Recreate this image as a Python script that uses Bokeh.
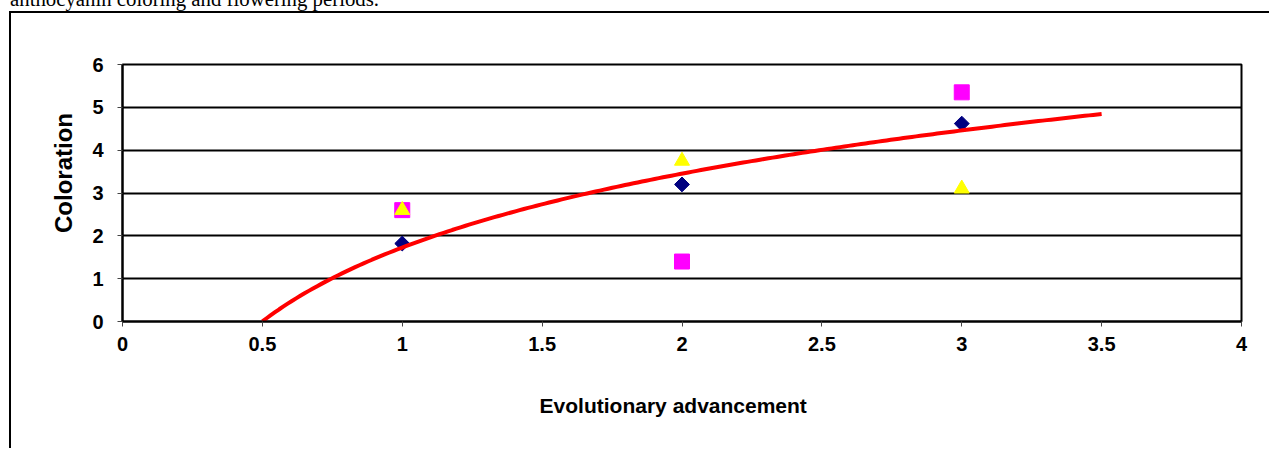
import numpy as np
from bokeh.plotting import figure
from bokeh.models import Div, FixedTicker, Range1d
from bokeh.layouts import column
from bokeh.embed import file_html
from bokeh.resources import INLINE

# ---- data ----
heading = "anthocyanin coloring and flowering periods."
x_title = "Evolutionary advancement"
y_title = "Coloration"

advancement = [1, 2, 3]
diamond_vals = [1.82, 3.2, 4.62]
square_vals = [2.6, 1.4, 5.35]
triangle_vals = [2.6, 3.75, 3.1]

x_ticks = [0, 0.5, 1, 1.5, 2, 2.5, 3, 3.5, 4]
y_ticks = [0, 1, 2, 3, 4, 5, 6]
x_tick_labels = {0: "0", 0.5: "0.5", 1: "1", 1.5: "1.5", 2: "2", 2.5: "2.5", 3: "3", 3.5: "3.5", 4: "4"}

# logarithmic trendline of the diamond series, drawn from 0.5 to 3.5
trend_start, trend_end = 0.5, 3.5
coef = np.polyfit(np.log(advancement), diamond_vals, 1)
trend_x = np.linspace(trend_start, trend_end, 200)
trend_y = coef[0] * np.log(trend_x) + coef[1]

FONT = "Liberation Sans"
NBSP = "\u00a0"

div = Div(
    text=heading,
    width=1200,
    height=24,
    styles={
        "font-family": "'Liberation Serif', 'Times New Roman', serif",
        "font-size": "20.8px",
        "line-height": "24px",
        "color": "black",
        "margin-top": "-13px",
        "margin-left": "10px",
        "white-space": "nowrap",
    },
)

p = figure(
    width=1260,
    height=437,
    output_backend="svg",
    toolbar_location=None,
    x_range=Range1d(0, 4),
    y_range=Range1d(0, 6),
    min_border_left=111,
    min_border_right=30,
    min_border_top=51,
    min_border_bottom=129,
    background_fill_color="white",
    border_fill_color="white",
    styles={
        "border-left": "2px solid black",
        "border-top": "2px solid black",
        "margin-left": "9px",
        "margin-top": "-5px",
    },
)

p.outline_line_color = "black"
p.outline_line_width = 2
p.xgrid.grid_line_color = None
p.ygrid.grid_line_color = "black"
p.ygrid.grid_line_width = 2

p.xaxis.ticker = FixedTicker(ticks=x_ticks)
p.yaxis.ticker = FixedTicker(ticks=y_ticks)
p.xaxis.major_label_overrides = {k: v for k, v in x_tick_labels.items()}

for ax in (p.xaxis, p.yaxis):
    ax.axis_line_color = "black"
    ax.axis_line_width = 2
    ax.major_tick_line_color = "#444444"
    ax.major_tick_line_width = 1
    ax.major_tick_in = 0
    ax.major_tick_out = 5
    ax.minor_tick_line_color = None
    ax.major_label_text_font = FONT
    ax.major_label_text_font_style = "bold"
    ax.major_label_text_font_size = "20px"
    ax.major_label_text_color = "black"
    ax.axis_label_text_font = FONT
    ax.axis_label_text_font_style = "bold"
    ax.axis_label_text_color = "black"

p.xaxis.major_label_standoff = 10
p.yaxis.major_label_standoff = 14
# non-breaking spaces nudge the titles off-centre, as in the reference
p.xaxis.axis_label = x_title + NBSP * 3
p.yaxis.axis_label = NBSP * 6 + y_title
p.xaxis.axis_label_text_font_size = "21px"
p.yaxis.axis_label_text_font_size = "24px"
p.xaxis.axis_label_standoff = 40
p.yaxis.axis_label_standoff = 12

p.scatter(advancement, diamond_vals, marker="square", angle=np.pi / 4, size=10.5,
          fill_color="#000080", line_color="#000080")
p.scatter(advancement, square_vals, marker="square", size=15,
          fill_color="#FF00FF", line_color="#FF00FF")
p.scatter(advancement, triangle_vals, marker="triangle", size=15,
          fill_color="#FFFF00", line_color="#FFFF00")
p.line(trend_x, trend_y, line_color="#FF0000", line_width=4)

layout = column(div, p)
open("out.html", "w").write(file_html(layout, INLINE))
